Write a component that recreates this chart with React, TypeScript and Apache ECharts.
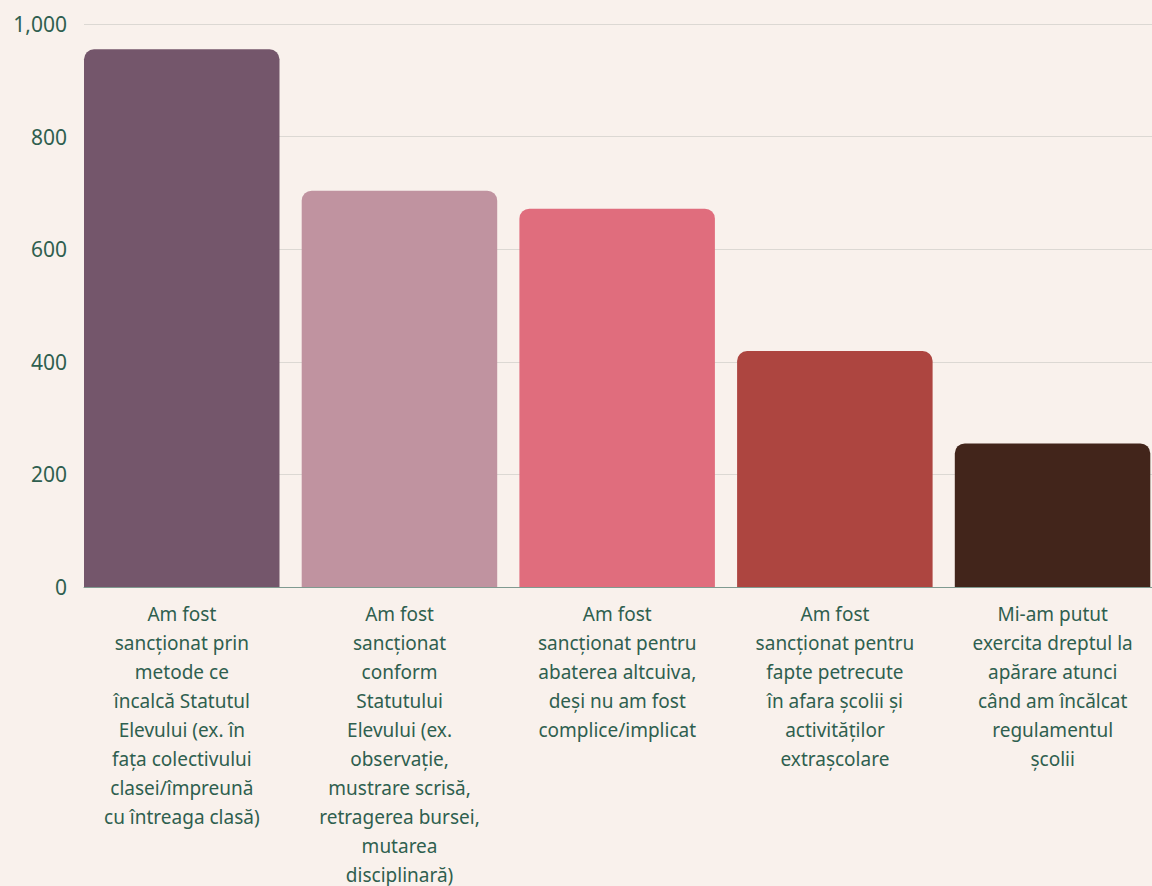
import React, { useEffect, useRef } from "react";
import * as echarts from "echarts";

const categories = [
  "Am fost\nsancționat prin\nmetode ce\nîncalcă Statutul\nElevului (ex. în\nfața colectivului\nclasei/împreună\ncu întreaga clasă)",
  "Am fost\nsancționat\nconform\nStatutului\nElevului (ex.\nobservație,\nmustrare scrisă,\nretragerea bursei,\nmutarea\ndisciplinară)",
  "Am fost\nsancționat pentru\nabaterea altcuiva,\ndeși nu am fost\ncomplice/implicat",
  "Am fost\nsancționat pentru\nfapte petrecute\nîn afara școlii și\nactivităților\nextrașcolare",
  "Mi-am putut\nexercita dreptul la\napărare atunci\ncând am încălcat\nregulamentul\nșcolii",
];
const values = [955, 704, 672, 419, 255];
const colors = ["#74566b", "#c093a0", "#e06d7d", "#ad4540", "#42251b"];
const yTicks = [0, 200, 400, 600, 800, 1000];

export default function App() {
  const ref = useRef<HTMLDivElement>(null);
  useEffect(() => {
    document.body.style.margin = "0";
    document.body.style.background = "#f9f1ec";
    const chart = echarts.init(ref.current!, null, { renderer: "svg" });
    const textColor = "#2f5f4f";
    chart.setOption({
      animation: false,
      backgroundColor: "#f9f1ec",
      grid: {
        left: 84,
        top: 24,
        bottom: 299,
        right: -20.5,
        containLabel: false,
        outerBoundsMode: "none",
      },
      xAxis: {
        type: "category",
        data: categories,
        axisTick: { show: false },
        axisLine: { show: true, lineStyle: { color: "#7f9a90", width: 1 } },
        axisLabel: {
          color: textColor,
          fontFamily: "Noto Sans",
          fontSize: 19,
          lineHeight: 29,
          margin: 12,
          interval: 0,
          align: "center",
          padding: [0, 22, 0, 0],
        },
      },
      yAxis: {
        type: "value",
        min: yTicks[0],
        max: yTicks[yTicks.length - 1],
        interval: 200,
        axisLine: { show: false },
        axisTick: { show: false },
        splitLine: { lineStyle: { color: "#dcd8d3", width: 1 } },
        axisLabel: {
          color: textColor,
          fontFamily: "Noto Sans",
          fontSize: 21,
          margin: 17,
          formatter: (v: number) => v.toLocaleString("en-US"),
        },
      },
      series: [
        {
          type: "bar",
          data: values.map((v, i) => ({ value: v, itemStyle: { color: colors[i] } })),
          barWidth: 195.5,
          barGap: "0%",
          itemStyle: { borderRadius: [10, 10, 0, 0] },
        },
        {
          type: "bar",
          data: values.map(() => null),
          barWidth: 22.2,
          itemStyle: { color: "transparent" },
        },
      ],
    });
    return () => chart.dispose();
  }, []);
  return <div ref={ref} style={{ width: 1152, height: 886 }} />;
}
